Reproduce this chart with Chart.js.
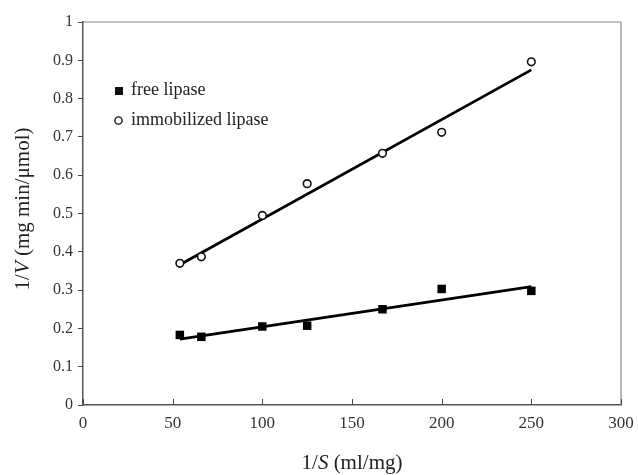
<!DOCTYPE html>
<html>
<head>
<meta charset="utf-8">
<script src="https://cdn.jsdelivr.net/npm/chart.js@4.4.0/dist/chart.umd.min.js"></script>
<style>
  html, body { margin: 0; padding: 0; background: #fff; }
  #wrap { width: 638px; height: 475px; position: relative; }
</style>
</head>
<body>
<div id="wrap"><canvas id="chart" width="638" height="475"></canvas></div>
<script>
// 1/S values (ml/mg)
const invS = [54, 66, 100, 125, 167, 200, 250];
// 1/V values (mg min/umol)
const freeLipase = [0.183, 0.178, 0.205, 0.207, 0.250, 0.303, 0.298];
const immobLipase = [0.370, 0.387, 0.495, 0.578, 0.657, 0.712, 0.896];
// fitted lines (end points)
const fitX = [54, 250];
const freeFit = [0.172, 0.309];
const immobFit = [0.366, 0.875];
// axis ticks
const xTicks = [0, 50, 100, 150, 200, 250, 300];
const yTicks = [0, 0.1, 0.2, 0.3, 0.4, 0.5, 0.6, 0.7, 0.8, 0.9, 1];

const SERIF = '"Liberation Serif", "Times New Roman", serif';

function pts(xs, ys) {
    return xs.map((x, i) => ({ x: x, y: ys[i] }));
}

// frame, inward x ticks, legend and axis titles
const decor = {
    id: 'decor',
    beforeDatasetsDraw(chart) {
        const ctx = chart.ctx;
        const a = chart.chartArea;
        const xs = chart.scales.x;
        ctx.save();
        // top/right frame
        ctx.strokeStyle = '#8a8a8a';
        ctx.lineWidth = 1.2;
        ctx.beginPath();
        ctx.moveTo(a.left, a.top);
        ctx.lineTo(a.right, a.top);
        ctx.lineTo(a.right, a.bottom);
        ctx.stroke();
        // x ticks pointing inward
        ctx.strokeStyle = '#444';
        ctx.lineWidth = 1;
        xTicks.forEach(v => {
            const px = Math.round(xs.getPixelForValue(v)) + 0.5;
            ctx.beginPath();
            ctx.moveTo(px, a.bottom);
            ctx.lineTo(px, a.bottom - 6);
            ctx.stroke();
        });
        ctx.restore();
    },
    afterDraw(chart) {
        const ctx = chart.ctx;
        const a = chart.chartArea;
        ctx.save();
        ctx.fillStyle = '#111';
        ctx.textBaseline = 'middle';
        ctx.textAlign = 'left';
        // legend
        ctx.fillRect(115, 87, 8, 8);
        ctx.strokeStyle = '#111';
        ctx.lineWidth = 1.4;
        ctx.beginPath();
        ctx.arc(118.5, 120.5, 3.6, 0, Math.PI * 2);
        ctx.stroke();
        ctx.font = '18px ' + SERIF;
        ctx.fillStyle = '#222';
        ctx.fillText('free lipase', 131, 90);
        ctx.fillText('immobilized lipase', 131, 120);

        // x axis title: 1/S (ml/mg)
        const parts = [
            ['1/', 'normal'], ['S', 'italic'], [' (ml/mg)', 'normal']
        ];
        let total = 0;
        parts.forEach(p => {
            ctx.font = p[1] + ' 21px ' + SERIF;
            total += ctx.measureText(p[0]).width;
        });
        let x = (a.left + a.right) / 2 - total / 2;
        parts.forEach(p => {
            ctx.font = p[1] + ' 21px ' + SERIF;
            ctx.fillText(p[0], x, 463);
            x += ctx.measureText(p[0]).width;
        });

        // y axis title: 1/V (mg min/µmol)
        const yparts = [
            ['1/', 'normal'], ['V', 'italic'], [' (mg min/\u03bcmol)', 'normal']
        ];
        total = 0;
        yparts.forEach(p => {
            ctx.font = p[1] + ' 21px ' + SERIF;
            total += ctx.measureText(p[0]).width;
        });
        ctx.translate(23, 209);
        ctx.rotate(-Math.PI / 2);
        x = -total / 2;
        yparts.forEach(p => {
            ctx.font = p[1] + ' 21px ' + SERIF;
            ctx.fillText(p[0], x, 0);
            x += ctx.measureText(p[0]).width;
        });
        ctx.restore();
    }
};

new Chart(document.getElementById('chart'), {
    type: 'scatter',
    data: {
        datasets: [
            {
                label: 'free lipase fit',
                data: pts(fitX, freeFit),
                showLine: true,
                borderColor: '#000',
                borderWidth: 2.8,
                pointRadius: 0,
                order: 2
            },
            {
                label: 'immobilized lipase fit',
                data: pts(fitX, immobFit),
                showLine: true,
                borderColor: '#000',
                borderWidth: 2.8,
                pointRadius: 0,
                order: 2
            },
            {
                label: 'free lipase',
                data: pts(invS, freeLipase),
                pointStyle: 'rect',
                pointRadius: 6,
                backgroundColor: '#000',
                borderColor: '#000',
                borderWidth: 0,
                order: 1
            },
            {
                label: 'immobilized lipase',
                data: pts(invS, immobLipase),
                pointStyle: 'circle',
                pointRadius: 3.8,
                backgroundColor: '#fff',
                borderColor: '#111',
                borderWidth: 1.6,
                order: 1
            }
        ]
    },
    options: {
        responsive: false,
        animation: false,
        events: [],
        layout: { padding: { top: 22, right: 17, left: 0, bottom: 0 } },
        plugins: {
            legend: { display: false },
            tooltip: { enabled: false }
        },
        scales: {
            x: {
                type: 'linear',
                min: 0,
                max: 300,
                afterBuildTicks: s => { s.ticks = xTicks.map(v => ({ value: v })); },
                afterFit: s => { s.height = 70; s.paddingLeft = 0; s.paddingRight = 0; },
                grid: { display: true, drawOnChartArea: false, drawTicks: false },
                border: { color: '#555', width: 1.5 },
                ticks: {
                    color: '#333',
                    padding: 8,
                    maxRotation: 0,
                    font: { family: SERIF, size: 17 }
                }
            },
            y: {
                type: 'linear',
                min: 0,
                max: 1,
                afterBuildTicks: s => { s.ticks = yTicks.map(v => ({ value: v })); },
                afterFit: s => { s.width = 83; s.paddingTop = 0; s.paddingBottom = 0; },
                grid: { drawOnChartArea: false, drawTicks: true, tickLength: 5, color: '#444' },
                border: { color: '#555', width: 1.5 },
                ticks: {
                    color: '#333',
                    padding: 5,
                    font: { family: SERIF, size: 16 },
                    callback: v => String(Math.round(v * 10) / 10)
                }
            }
        }
    },
    plugins: [decor]
});
</script>
</body>
</html>
